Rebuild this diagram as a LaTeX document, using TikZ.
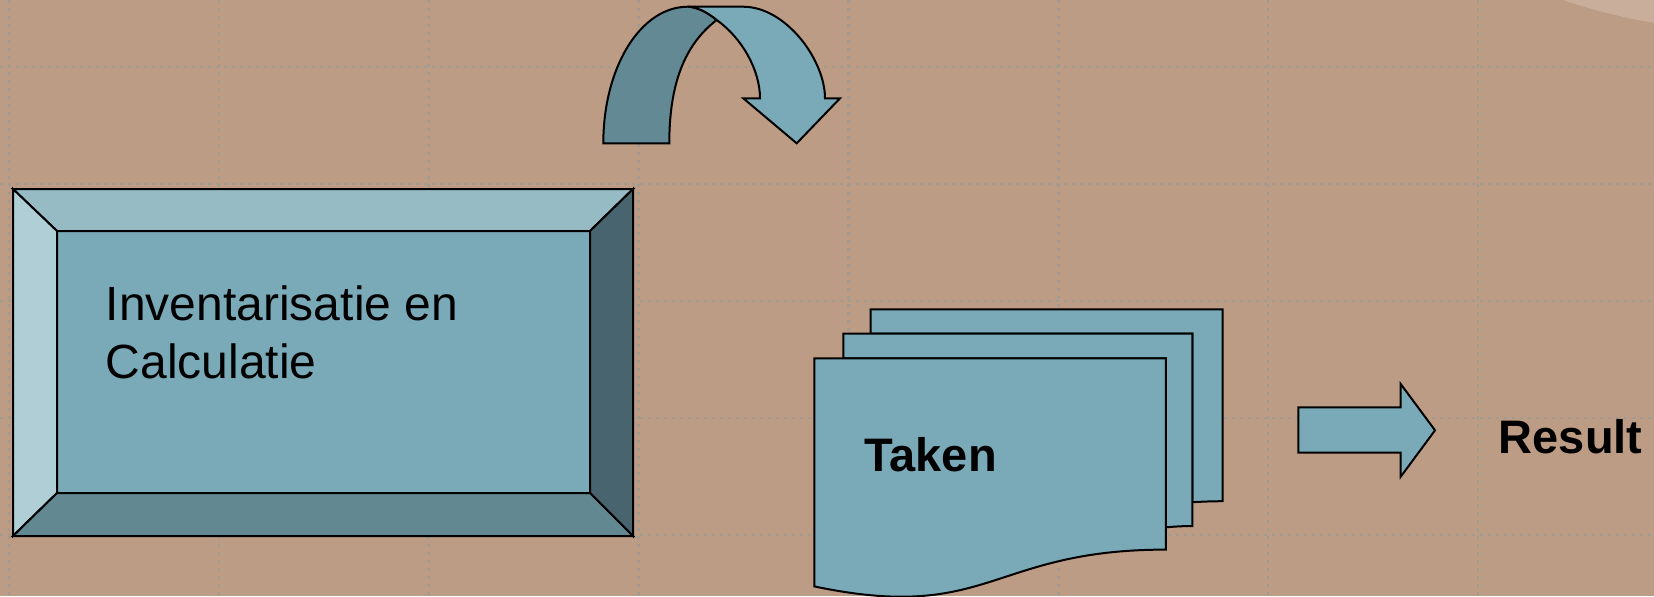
\documentclass[tikz,border=0pt]{standalone}
\usepackage{fontspec}
\setmainfont{Liberation Sans}
\definecolor{bgc}{RGB}{188,156,132}
\definecolor{circc}{RGB}{201,174,155}
\definecolor{gridc}{RGB}{162,155,143}
\definecolor{facec}{RGB}{122,170,184}
\definecolor{topc}{RGB}{150,187,197}
\definecolor{leftc}{RGB}{176,206,214}
\definecolor{rightc}{RGB}{72,100,110}
\definecolor{botc}{RGB}{98,136,146}
\definecolor{darkc}{RGB}{99,137,148}
\begin{document}
\begin{tikzpicture}[x=0.5pt,y=-0.5pt,
  outl/.style={draw=black, line width=1pt, line join=miter},
  griddots/.style={draw=gridc, line width=1.25pt, dash pattern=on 1.25pt off 2.75pt},
  reg/.style={inner sep=0pt, anchor=base west, font=\fontsize{24}{29}\selectfont},
  bld/.style={inner sep=0pt, anchor=base west, font=\fontsize{23.5}{28}\selectfont\bfseries}]
% background
\fill[bgc] (0,0) rectangle (1654,596);
\useasboundingbox (0,0) rectangle (1654,596);
\begin{scope}
\clip (0,0) rectangle (1654,596);
\fill[circc] (1751.6,-554) circle[radius=585];
\end{scope}
% grid
\foreach \gx in {9,218.9,428.7,638.6,848.4,1058.3,1268.1,1478}
  \draw[griddots] (\gx,0) -- (\gx,596);
\foreach \gy in {67,184,301,418,535}
  \draw[griddots] (0,\gy) -- (1654,\gy);
% bevelled box
\fill[facec] (57,231) rectangle (590,493);
\filldraw[fill=topc, outl] (13,189) -- (633,189) -- (590,231) -- (57,231) -- cycle;
\filldraw[fill=leftc, outl] (13,189) -- (57,231) -- (57,493) -- (13,536) -- cycle;
\filldraw[fill=rightc, outl] (633,189) -- (633,536) -- (590,493) -- (590,231) -- cycle;
\filldraw[fill=botc, outl] (13,536) -- (57,493) -- (590,493) -- (633,536) -- cycle;
\draw[outl] (57,231) rectangle (590,493);
\draw[outl] (13,189) rectangle (633,536);
\node[reg] (inv1) at (105.5,320) {Inventarisatie en};
\node[reg] (inv2) at (105.5,378) {Calculatie};
% curved arrow
\filldraw[fill=darkc, outl] (603.3,143.3) -- (669.3,143.3)
  .. controls (669.3,85) and (684,45) .. (716.7,20)
  .. controls (706,11) and (695,6.7) .. (688,6.7)
  .. controls (640,6.7) and (603.3,68) .. cycle;
\filldraw[fill=facec, outl] (688,6.7) -- (743,6.7)
  .. controls (786,6.7) and (825,60) .. (825,98.3)
  -- (840,98.3) -- (796.7,143.3) -- (743.3,98.3) -- (760,98.3)
  .. controls (760,70) and (742,38) .. (716.7,20)
  .. controls (706,11) and (695,6.7) .. (688,6.7) -- cycle;
% multidocument
\filldraw[fill=facec, outl] (870.5,333.5) -- (870.5,309.3) -- (1222.7,309.3) -- (1222.7,501.2)
  .. controls (1207.6,501.2) and (1192.4,502.2) .. (1192.4,502.2) -- (1192.4,333.5) -- cycle;
\filldraw[fill=facec, outl] (843.3,358.3) -- (843.3,333.5) -- (1192.4,333.5) -- (1192.4,526)
  .. controls (1179.2,526) and (1165.9,527.3) .. (1165.9,527.3) -- (1165.9,358.3) -- cycle;
\filldraw[fill=facec, outl] (814.3,586.4)
  .. controls (990.1,623.2) and (990.1,549.6) .. (1165.9,549.6)
  -- (1165.9,358.3) -- (814.3,358.3) -- cycle;
\node[bld] (taken) at (864,471.7) {Taken};
% block arrow
\filldraw[fill=facec, outl] (1298.3,407.3) -- (1400.7,407.3) -- (1400.7,384) -- (1435,430.3)
  -- (1400.7,476.7) -- (1400.7,452.7) -- (1298.3,452.7) -- cycle;
\node[bld] (result) at (1498.5,453.3) {Result};
\end{tikzpicture}
\end{document}
